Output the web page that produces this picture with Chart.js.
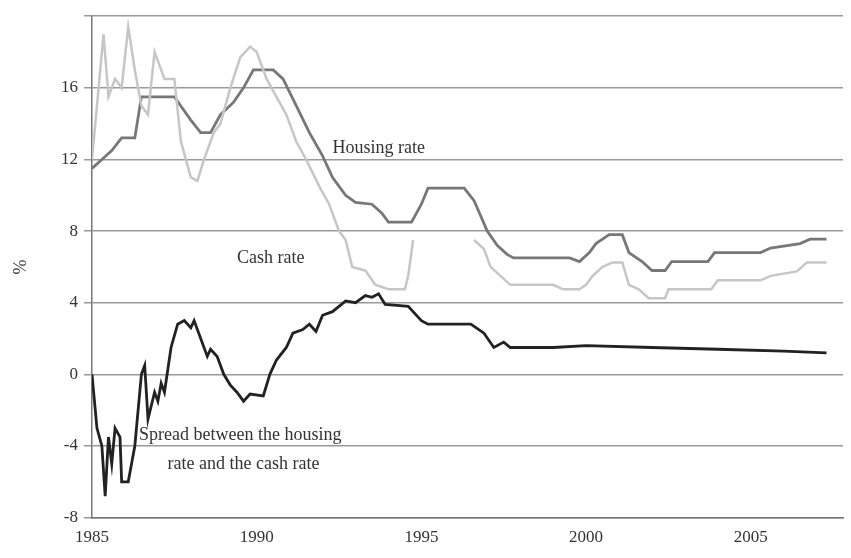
<!DOCTYPE html>
<html>
<head>
<meta charset="utf-8">
<script src="https://cdn.jsdelivr.net/npm/chart.js@4"></script>
<style>
  html, body { margin: 0; padding: 0; background: #fff; }
  #wrap { width: 851px; height: 558px; }
</style>
</head>
<body>
<div id="wrap"><canvas id="c"></canvas></div>
<script>
// housing rate (year, %)
const housingYears = [1985.0,1985.3,1985.6,1985.9,1986.3,1986.5,1987.5,1988.0,1988.3,1988.6,1988.9,1989.3,1989.6,1989.9,1990.5,1990.8,1991.2,1991.6,1992.0,1992.3,1992.7,1993.0,1993.5,1993.8,1994.0,1994.7,1995.0,1995.2,1996.3,1996.6,1997.0,1997.3,1997.6,1997.8,1999.5,1999.8,2000.1,2000.3,2000.7,2001.1,2001.3,2001.7,2002.0,2002.4,2002.6,2003.7,2003.9,2005.3,2005.6,2006.5,2006.8,2007.3];
const housingRate  = [11.5,12,12.5,13.2,13.2,15.5,15.5,14.2,13.5,13.5,14.5,15.2,16.0,17.0,17.0,16.5,15,13.5,12.2,11,10.0,9.6,9.5,9.0,8.5,8.5,9.5,10.4,10.4,9.7,8.0,7.2,6.7,6.5,6.5,6.3,6.8,7.3,7.8,7.8,6.8,6.3,5.8,5.8,6.3,6.3,6.8,6.8,7.05,7.3,7.55,7.55];

// cash rate (null = gap in the series)
const cashYears = [1985.0,1985.2,1985.35,1985.5,1985.7,1985.9,1986.1,1986.3,1986.5,1986.7,1986.9,1987.1,1987.2,1987.5,1987.7,1988.0,1988.2,1988.4,1988.7,1988.9,1989.2,1989.5,1989.8,1990.0,1990.3,1990.6,1990.9,1991.2,1991.5,1991.9,1992.2,1992.5,1992.7,1992.9,1993.3,1993.6,1994.0,1994.5,1994.6,1994.75,1995.5,1996.6,1996.9,1997.1,1997.4,1997.7,1999.0,1999.3,1999.8,2000.0,2000.2,2000.5,2000.8,2001.1,2001.3,2001.6,2001.9,2002.4,2002.5,2003.8,2004.0,2005.3,2005.6,2006.4,2006.7,2007.3];
const cashRate  = [12,16,19,15.5,16.5,16,19.4,17,15,14.5,18,17,16.5,16.5,13,11,10.8,12,13.5,14,16,17.7,18.3,18,16.5,15.5,14.5,13,12,10.5,9.5,8.0,7.5,6.0,5.8,5.0,4.75,4.75,5.5,7.5,null,7.5,7.0,6.0,5.5,5.0,5.0,4.75,4.75,5.0,5.5,6.0,6.25,6.25,5.0,4.75,4.25,4.25,4.75,4.75,5.25,5.25,5.5,5.75,6.25,6.25];

// spread between housing and cash rate
const spreadYears = [1985.0,1985.15,1985.3,1985.4,1985.5,1985.6,1985.7,1985.85,1985.9,1986.1,1986.3,1986.5,1986.6,1986.7,1986.9,1987.0,1987.1,1987.2,1987.4,1987.6,1987.8,1988.0,1988.1,1988.3,1988.5,1988.6,1988.8,1989.0,1989.2,1989.4,1989.6,1989.8,1990.2,1990.4,1990.6,1990.9,1991.1,1991.4,1991.6,1991.8,1992.0,1992.3,1992.5,1992.7,1993.0,1993.3,1993.5,1993.7,1993.9,1994.6,1995.0,1995.2,1996.5,1996.9,1997.2,1997.5,1997.7,1999.0,2000.0,2002.0,2004.0,2006.0,2007.3];
const spread      = [0,-3,-4,-6.8,-3.5,-5,-3,-3.5,-6,-6,-4,0,0.5,-2.5,-1,-1.5,-0.5,-1,1.5,2.8,3,2.6,3,2,1,1.4,1,0,-0.6,-1,-1.5,-1.1,-1.2,0,0.8,1.5,2.3,2.5,2.8,2.4,3.3,3.5,3.8,4.1,4.0,4.4,4.3,4.5,3.9,3.8,3.0,2.8,2.8,2.3,1.5,1.8,1.5,1.5,1.6,1.5,1.4,1.3,1.2];

const xTicks = [1985, 1990, 1995, 2000, 2005];
const yTicks = [-8, -4, 0, 4, 8, 12, 16, 20];

function toPoints(xs, ys) {
  return xs.map((x, i) => ({ x: x, y: ys[i] }));
}

const SERIF = "'Liberation Serif', 'DejaVu Serif', serif";

// 차트 안의 설명 글씨
const labelPlugin = {
  id: 'labels',
  afterDatasetsDraw(chart) {
    const ctx = chart.ctx;
    const xs = chart.scales.x, ys = chart.scales.y;
    ctx.save();
    ctx.fillStyle = '#333';
    ctx.font = '18px ' + SERIF;
    ctx.textAlign = 'left';
    ctx.textBaseline = 'middle';
    ctx.fillText('Housing rate', xs.getPixelForValue(1992.3), ys.getPixelForValue(12.6));
    ctx.fillText('Cash rate', xs.getPixelForValue(1989.4), ys.getPixelForValue(6.5));
    ctx.textAlign = 'center';
    ctx.fillText('Spread between the housing', xs.getPixelForValue(1989.5), ys.getPixelForValue(-3.4));
    ctx.fillText('rate and the cash rate', xs.getPixelForValue(1989.6), ys.getPixelForValue(-5.0));
    ctx.restore();
  }
};

new Chart(document.getElementById('c'), {
  type: 'line',
  data: {
    datasets: [
      { label: 'Cash rate', data: toPoints(cashYears, cashRate), borderColor: '#c6c6c6', borderWidth: 2.5, pointRadius: 0, spanGaps: false, tension: 0 },
      { label: 'Housing rate', data: toPoints(housingYears, housingRate), borderColor: '#777', borderWidth: 2.8, pointRadius: 0, tension: 0 },
      { label: 'Spread', data: toPoints(spreadYears, spread), borderColor: '#222', borderWidth: 2.8, pointRadius: 0, tension: 0 }
    ]
  },
  options: {
    responsive: true,
    maintainAspectRatio: false,
    animation: false,
    layout: { padding: { top: 7, right: 8, left: 6, bottom: 0 } },
    plugins: { legend: { display: false }, tooltip: { enabled: false } },
    scales: {
      x: {
        type: 'linear', min: 1985, max: 2007.8,
        afterBuildTicks: axis => { axis.ticks = xTicks.map(v => ({ value: v })); },
        grid: { display: false, drawTicks: false },
        border: { color: '#777', width: 1.5 },
        ticks: { color: '#333', font: { size: 17, family: SERIF }, padding: 10, maxRotation: 0, callback: v => String(v) }
      },
      y: {
        min: -8, max: 20,
        afterBuildTicks: axis => { axis.ticks = yTicks.map(v => ({ value: v })); },
        afterFit: axis => { axis.width = 86; },
        grid: { color: '#999', lineWidth: 1.5, drawTicks: true, tickLength: 8 },
        border: { color: '#777', width: 1.5 },
        title: { display: true, text: '%', color: '#333', font: { size: 18, family: SERIF } },
        ticks: { color: '#333', font: { size: 17, family: SERIF }, padding: 6, callback: v => v === 20 ? '' : String(v) }
      }
    }
  },
  plugins: [labelPlugin]
});
</script>
</body>
</html>
